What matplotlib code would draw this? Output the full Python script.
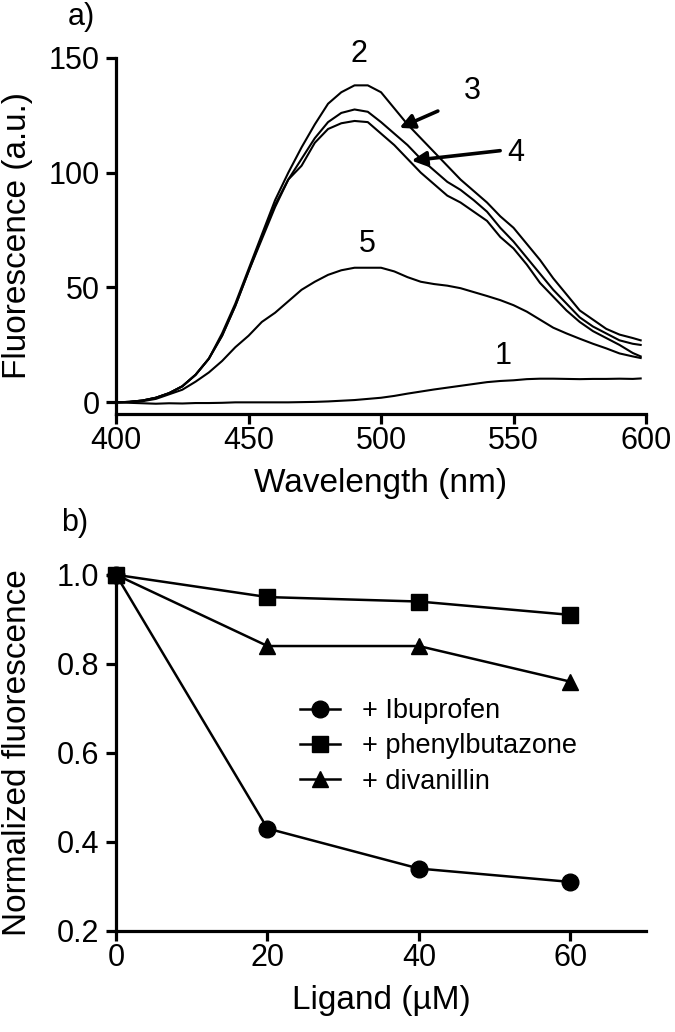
import numpy as np
import matplotlib
matplotlib.use("Agg")
import matplotlib.pyplot as plt

plt.rcParams['font.family'] = ['Liberation Sans', 'DejaVu Sans']

# panel a: emission spectra
wl = [400, 405, 410, 415, 420, 425, 430, 435, 440, 445, 450, 455, 460, 465,
      470, 475, 480, 485, 490, 495, 500, 505, 510, 515, 520, 525, 530, 535,
      540, 545, 550, 555, 560, 565, 570, 575, 580, 585, 590, 595, 598]
spec1 = [0, -0.2, -0.4, -0.6, -0.4, -0.5, -0.3, -0.3, -0.2, 0, 0, 0, 0, 0,
         0.1, 0.2, 0.4, 0.7, 1.0, 1.5, 2.0, 2.8, 3.8, 4.7, 5.6, 6.4, 7.2, 8.0,
         8.8, 9.3, 9.6, 10.1, 10.3, 10.3, 10.2, 10.1, 10.2, 10.2, 10.3, 10.2, 10.4]
spec2 = [0, 0.2, 0.8, 2, 4, 7, 12, 19, 30, 43, 58, 73, 88, 100,
         111, 121, 130, 135, 138, 138, 135, 128, 121, 115, 109, 103, 97, 92,
         87, 81, 76, 69, 62, 54, 47, 40, 36, 32, 29.5, 28, 27]
spec3 = [0, 0.2, 0.8, 2, 4, 7, 12, 19, 29, 42, 57, 72, 86, 97,
         106, 115, 122, 126, 127.5, 126.5, 122, 117, 112, 106, 101, 96, 92.5, 88,
         83, 76, 70, 63, 56, 49, 43, 37, 33, 30, 27, 25.5, 25]
spec4 = [0, 0.2, 0.8, 2, 4, 7, 12, 19, 29, 42, 57, 71, 85, 97,
         103, 113, 119, 121.5, 122.5, 122, 117, 112, 106, 100, 95, 90, 87, 83,
         79, 72, 67, 60, 52, 46, 40, 35, 31, 28, 25, 21.5, 20]
spec5 = [0, 0.2, 0.5, 1.5, 3.5, 5.5, 9, 13, 18, 24, 29, 35, 39, 44,
         49, 52.5, 55.5, 57.5, 58.6, 58.6, 58.6, 57, 54.5, 52.5, 51.5, 50.8, 49.7, 48,
         46.3, 44.5, 42.3, 39.5, 36, 32.5, 30, 27.7, 25.5, 23.5, 21.3, 20, 19.3]

# panel b: quenching by ligands
ligand = [0, 20, 40, 60]
ibuprofen = [1.0, 0.43, 0.34, 0.31]
phenylbutazone = [1.0, 0.95, 0.94, 0.91]
divanillin = [1.0, 0.84, 0.84, 0.76]

fs_tick = 22
fs_label = 24

fig = plt.figure(figsize=(6.75, 10.32), dpi=100)
ax1 = fig.add_axes([0.172, 0.599, 0.785, 0.345])
ax2 = fig.add_axes([0.172, 0.098, 0.785, 0.345])

for s in [spec1, spec2, spec3, spec4, spec5]:
    ax1.plot(wl, s, color='black', lw=1.5)

ax1.set_xlim(400, 600)
ax1.set_ylim(-5, 150)
ax1.set_xticks([400, 450, 500, 550, 600])
ax1.set_yticks([0, 50, 100, 150])
ax1.set_xlabel("Wavelength (nm)", fontsize=fs_label, labelpad=9)
ax1.set_ylabel("Fluorescence (a.u.)", fontsize=fs_label)

ax1.text(491.5, 151.5, "2", fontsize=fs_tick, ha='center', va='center')
ax1.text(534.5, 135.5, "3", fontsize=fs_tick, ha='center', va='center')
ax1.text(551, 108.7, "4", fontsize=fs_tick, ha='center', va='center')
ax1.text(494.7, 68.8, "5", fontsize=fs_tick, ha='center', va='center')
ax1.text(546, 20, "1", fontsize=fs_tick, ha='center', va='center')
ax1.annotate("", xy=(506, 119), xytext=(522.4, 127.3),
             arrowprops=dict(arrowstyle='-|>', color='black', lw=2.6, mutation_scale=22))
ax1.annotate("", xy=(510.5, 105.1), xytext=(546, 109.7),
             arrowprops=dict(arrowstyle='-|>', color='black', lw=2.6, mutation_scale=22))

ax2.plot(ligand, ibuprofen, color='black', lw=1.8, marker='o', ms=12,
         label='+ Ibuprofen', clip_on=False)
ax2.plot(ligand, phenylbutazone, color='black', lw=1.8, marker='s', ms=12,
         label='+ phenylbutazone', clip_on=False)
ax2.plot(ligand, divanillin, color='black', lw=1.8, marker='^', ms=12,
         label='+ divanillin', clip_on=False)
ax2.set_xlim(0, 70)
ax2.set_ylim(0.2, 1.0)
ax2.set_xticks([0, 20, 40, 60])
ax2.set_yticks([0.2, 0.4, 0.6, 0.8, 1.0])
ax2.set_xlabel("Ligand (\u00b5M)", fontsize=fs_label, labelpad=9)
ax2.set_ylabel("Normalized fluorescence", fontsize=fs_label)
ax2.legend(loc='upper left', bbox_to_anchor=(0.347, 0.654), frameon=False,
           fontsize=19.5, handlelength=1.48, handletextpad=0.81,
           labelspacing=0.35, borderpad=0, borderaxespad=0)

for ax in [ax1, ax2]:
    ax.spines['top'].set_visible(False)
    ax.spines['right'].set_visible(False)
    ax.spines['left'].set_linewidth(2.3)
    ax.spines['bottom'].set_linewidth(2.3)
    ax.tick_params(labelsize=fs_tick, width=2.3, length=7)
    ax.tick_params(axis='x', pad=1.5)
    ax.tick_params(axis='y', pad=5)
    ax.yaxis.set_label_coords(-0.157, 0.5)

fig.text(0.121, 0.9835, "a)", fontsize=fs_tick, ha='center', va='center')
fig.text(0.111, 0.493, "b)", fontsize=fs_tick, ha='center', va='center')

fig.savefig("out.png", dpi=100)
